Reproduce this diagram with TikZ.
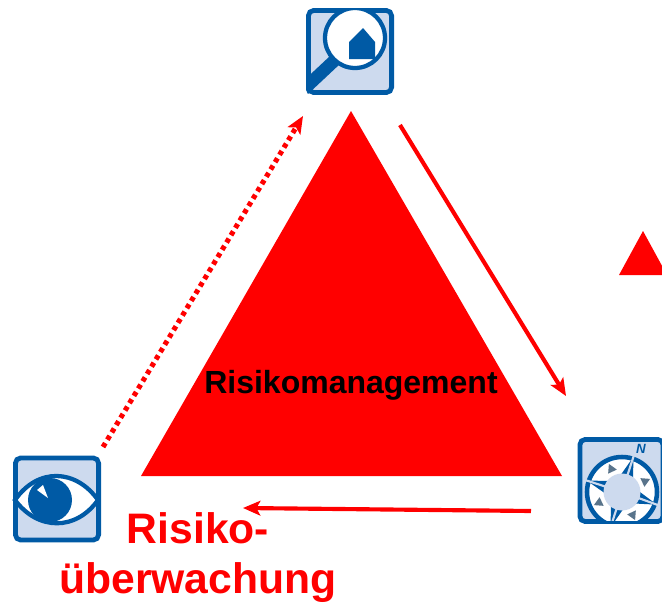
\documentclass[tikz,border=0pt]{standalone}
\usepackage{fontspec}
\setmainfont{Liberation Sans}
\definecolor{iconblue}{RGB}{0,90,165}
\definecolor{iconlight}{RGB}{205,218,238}
\definecolor{sparkred}{RGB}{255,0,0}
\usetikzlibrary{arrows.meta,calc}
\tikzset{
  iconbox/.style={draw=iconblue,fill=iconlight,line width=3.6pt,rounded corners=4pt,inner sep=0pt,minimum width=62.4pt,minimum height=61.6pt},
  tri/.style={fill=sparkred,draw=none},
  flow/.style={draw=sparkred,line width=3.1pt,-{Stealth[length=13pt,width=11pt,inset=3pt]}},
  dotflow/.style={draw=sparkred,line width=3.8pt,dash pattern=on 3.4pt off 3pt,-{Stealth[length=13pt,width=11pt,inset=3pt]}},
  lbl/.style={text=sparkred,font=\fontsize{32}{37}\selectfont\bfseries,align=center,inner sep=0pt},
}
\begin{document}
\begin{tikzpicture}[x=0.75pt,y=-0.75pt]
\useasboundingbox (0,0) rectangle (662,603);
\clip (0,0) rectangle (662,603);
% triangles
\fill[tri] (351,111) -- (562,476) -- (141,476) -- cycle;
\fill[tri] (643,231) -- (667,275) -- (619,275) -- cycle;
\node[inner sep=0pt,font=\fontsize{24}{28}\selectfont\bfseries] (rm) at (351,385) {Risikomanagement};
% icon: magnifier
\node[iconbox] (find) at (350,51.5) {};
\begin{scope}
\clip[rounded corners=4pt] (306,8) rectangle (394,95);
\draw[iconblue,line width=9.5pt] (303,90) -- (335,60);
\fill[white,draw=iconblue,line width=3.2pt] (355,38) circle (30);
\fill[iconblue] (349,42) -- (363,28) -- (375,42) -- (375,59) -- (349,59) -- cycle;
\end{scope}
% icon: compass
\node[iconbox] (compass) at (621.5,480.5) {};
\begin{scope}
\clip (583,441) rectangle (664,520);
\fill[white,draw=iconblue,line width=3.4pt] (622,492) circle (35);
\foreach \a in {72,-20,-108,162}{
  \fill[iconblue] ($(622,492)+({-\a-20}:18)$) -- ($(622,492)+({-\a}:37)$) -- ($(622,492)+({-\a+20}:18)$) -- cycle;
  \draw[iconlight,line width=1.6pt] (622,492) -- ($(622,492)+({-\a}:40)$);
}
\foreach \a in {115,25,-65,-155}{
  \fill[gray!70!iconblue] ($(622,492)+({-\a-12}:23)$) -- ($(622,492)+({-\a}:31)$) -- ($(622,492)+({-\a+12}:23)$) -- cycle;
}
\fill[iconlight] (622,492) circle (18.5);
\node[text=iconblue,inner sep=0pt,font=\fontsize{10}{10}\selectfont\itshape\bfseries] (north) at (641,449) {N};
\end{scope}
% icon: eye
\node[iconbox] (eye) at (57,499) {};
\begin{scope}
\fill[white,draw=iconblue,line width=3.2pt] (15,500) .. controls (38,467) and (76,469) .. (98,500) .. controls (76,531) and (38,531) .. (15,500) -- cycle;
\fill[iconblue] (50,500) circle (22);
\fill[white] (37,490) -- (43,485) -- (48,498) -- cycle;
\end{scope}
% connectors
\coordinate (a1) at (400,125);
\coordinate (a2) at (566,396);
\coordinate (b1) at (531,511);
\coordinate (b2) at (243,508);
\coordinate (c1) at (103,447);
\coordinate (c2) at (303,116);
\draw[flow] (a1) -- (a2);
\draw[flow] (b1) -- (b2);
\draw[dotflow] (c1) -- (c2);
\node[lbl] (risk) at (198,557.5) {Risiko-\\[1pt]überwachung};
\end{tikzpicture}
\end{document}
